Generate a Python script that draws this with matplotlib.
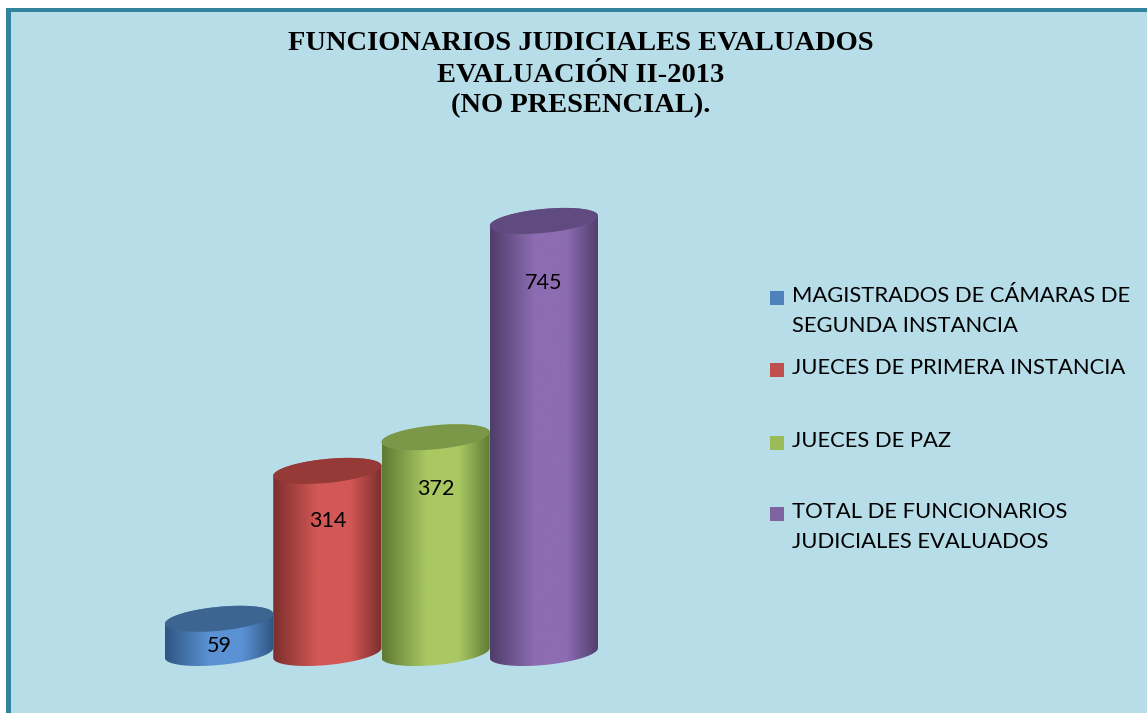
import matplotlib
matplotlib.use("Agg")
import matplotlib.pyplot as plt
import numpy as np
from matplotlib.colors import LinearSegmentedColormap
from matplotlib.patches import Polygon, Rectangle

# data
categories = [
    "MAGISTRADOS DE CÁMARAS DE\nSEGUNDA INSTANCIA",
    "JUECES DE PRIMERA INSTANCIA",
    "JUECES DE PAZ",
    "TOTAL DE FUNCIONARIOS\nJUDICIALES EVALUADOS",
]
values = [59, 314, 372, 745]
value_labels = ["59", "314", "372", "745"]
title_lines = [
    "FUNCIONARIOS JUDICIALES EVALUADOS",
    "EVALUACIÓN II-2013",
    "(NO PRESENCIAL).",
]

# styles: (dark edge, light highlight, top face, legend swatch)
shades = [
    ("#2f5683", "#5b92d4", "#3d6592", "#4f81bd"),
    ("#7d2f2d", "#d25856", "#953a37", "#c0504d"),
    ("#5e7a33", "#a9c862", "#7a9848", "#9bbb59"),
    ("#4f3d6a", "#8d6cb2", "#5f4b7f", "#8064a2"),
]
BG = "#b7dde8"
BORDER = "#31849b"

W, H = 1147, 713
fig = plt.figure(figsize=(W / 100, H / 100), dpi=100)
fig.patch.set_facecolor("white")

# frame background + border
fig.patches.append(Rectangle((6 / W, 0), 1 - 6 / W, 1 - 8 / H, transform=fig.transFigure,
                             facecolor=BG, edgecolor="none", zorder=-5))
fig.patches.append(Rectangle((6 / W, 1 - 12 / H), 1 - 6 / W, 4 / H, transform=fig.transFigure,
                             facecolor=BORDER, edgecolor="none", zorder=1))
fig.patches.append(Rectangle((6 / W, 0), 5 / W, 1 - 8 / H, transform=fig.transFigure,
                             facecolor=BORDER, edgecolor="none", zorder=1))

# axes: value 0 at pixel 653, 0.58 px per unit
px_per_unit = 0.58
y_bot_px, y_top_px = 680, 180
ylo = (653 - y_bot_px) / px_per_unit
yhi = (653 - y_top_px) / px_per_unit
ax = fig.add_axes([165 / W, (H - y_bot_px) / H, 433 / W, (y_bot_px - y_top_px) / H])
ax.axis("off")
ax.patch.set_alpha(0)

half_h = 12 / px_per_unit          # ellipse semi-axis in value units
tilt = 10 / px_per_unit            # rise across a bar width (value units)
t = np.linspace(0, 2 * np.pi, 200)

for i, (v, lab, sh) in enumerate(zip(values, value_labels, shades)):
    x0, x1 = i + 0.0, i + 1.0
    cx = (x0 + x1) / 2
    a = (x1 - x0) / 2
    ex = cx + a * np.cos(t)

    # body outline: bottom half-ellipse + top half of the top ellipse
    tb = np.linspace(np.pi, 2 * np.pi, 100)
    bx = cx + a * np.cos(tb)
    bottom = np.column_stack([bx, half_h * np.sin(tb) + tilt * (bx - cx)])
    tt = np.linspace(0, np.pi, 100)
    tx = cx + a * np.cos(tt)
    top = np.column_stack([tx, v + half_h * np.sin(tt) + tilt * (tx - cx)])
    body = Polygon(np.vstack([bottom, top]), closed=True, facecolor="none", edgecolor="none")
    ax.add_patch(body)

    cmap = LinearSegmentedColormap.from_list(
        f"c{i}", [sh[0], sh[1], sh[1], sh[0]], N=256)
    grad = np.interp(np.linspace(0, 1, 256), [0, 0.55, 0.65, 1], [0, 0.45, 0.6, 1])
    img = ax.imshow(grad[np.newaxis, :], cmap=cmap, aspect="auto", vmin=0, vmax=1,
                    extent=[x0, x1, -3 * half_h, v + 3 * half_h], zorder=2 + i,
                    interpolation="bilinear")
    img.set_clip_path(body)

    top_pts = np.column_stack([ex, v + half_h * np.sin(t) + tilt * (ex - cx)])
    ax.add_patch(Polygon(top_pts, closed=True, facecolor=sh[2], edgecolor="none",
                         zorder=2.5 + i))

    # label sits a little below the top face
    ly = v - (73 + 0.045 * v) if v > 150 else v * 0.2
    ax.text(cx, ly, lab, ha="center", va="center", fontsize=15.5,
            family="Lato", color="black", zorder=10)

ax.set_xlim(0, len(values))
ax.set_ylim(ylo, yhi)

# title
for k, line in enumerate(title_lines):
    fig.text(581 / W, 1 - (44 + 31 * k) / H, line, ha="center", va="center",
             fontsize=20.5, fontweight="bold", family="Liberation Serif", color="black")

# legend
legend_y = [298, 370, 443, 514]
for lab, sh, yy in zip(categories, shades, legend_y):
    fig.patches.append(Rectangle((770 / W, 1 - (yy + 7) / H), 14 / W, 14 / H,
                                 transform=fig.transFigure, facecolor=sh[3],
                                 edgecolor="none", zorder=3))
    fig.text(792 / W, 1 - (yy - 12) / H, lab, ha="left", va="top",
             fontsize=15.8, family="Lato", color="black", linespacing=1.62)

fig.savefig("out.png", dpi=100, facecolor=fig.get_facecolor())
